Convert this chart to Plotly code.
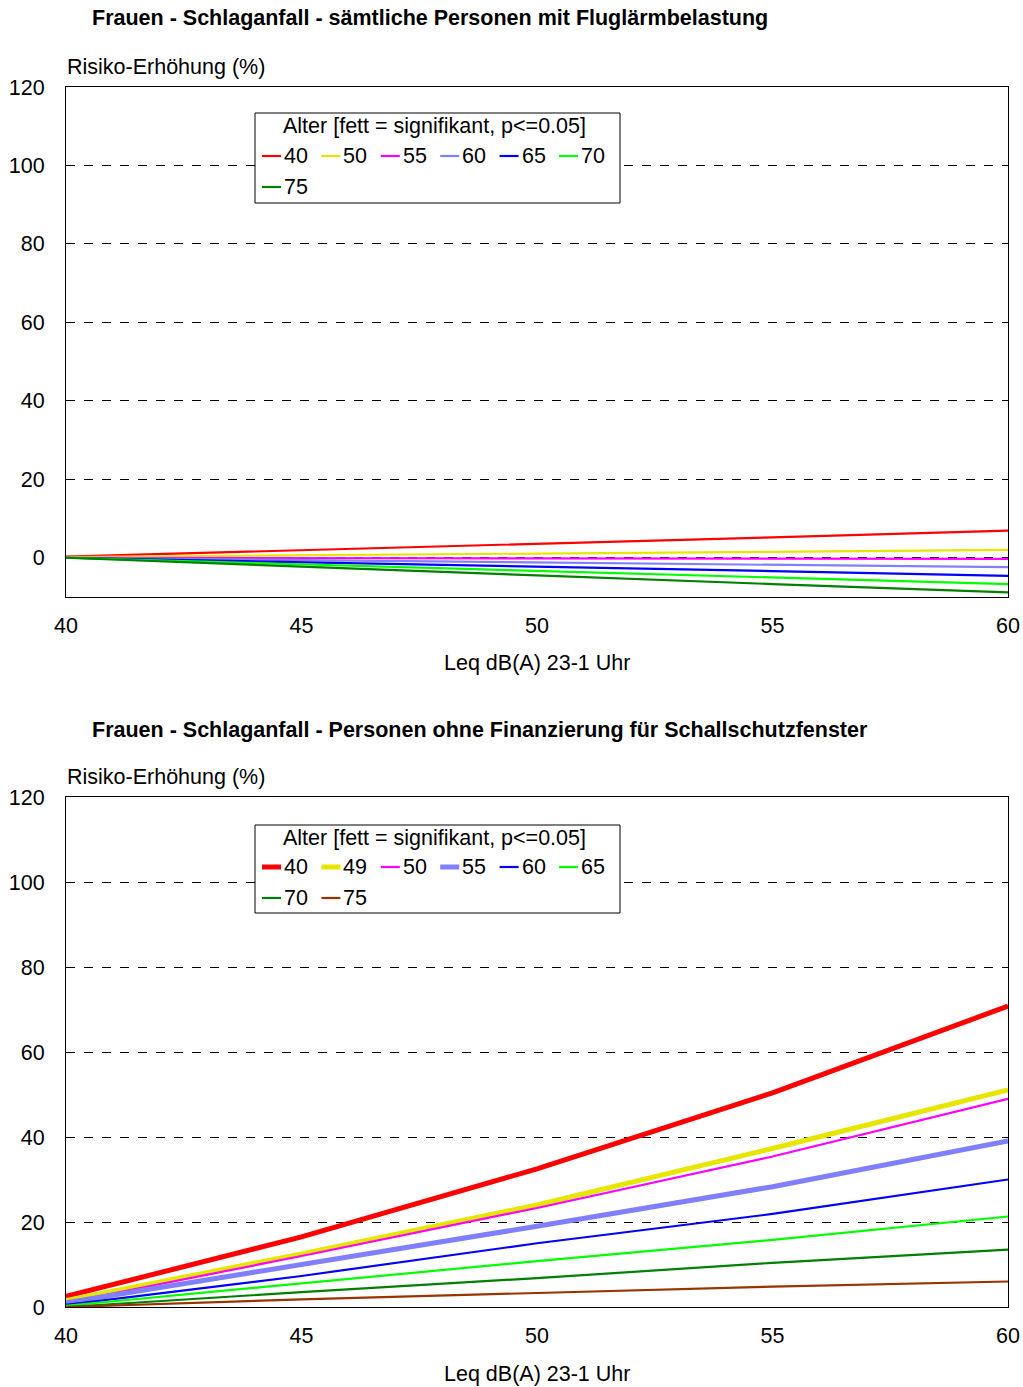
import plotly.graph_objects as go

# ---------------- data ----------------
x_leq = [40, 45, 50, 55, 60]

# top chart: all persons with aircraft noise exposure
top_names = ["40", "50", "55", "60", "65", "70", "75"]
top_colors = ["#FF0000", "#E6E600", "#FF00FF", "#8080FF", "#0000FF", "#00FF00", "#008000"]
top_bold = [False, False, False, False, False, False, False]
top_40 = [0.3, 1.9, 3.5, 5.2, 6.9]
top_50 = [0.2, 0.6, 1.0, 1.5, 2.0]
top_55 = [0.0, -0.1, -0.15, -0.2, -0.3]
top_60 = [0.0, -0.6, -1.2, -1.8, -2.4]
top_65 = [0.0, -1.1, -2.3, -3.4, -4.6]
top_70 = [0.0, -1.7, -3.4, -5.1, -6.7]
top_75 = [0.0, -2.3, -4.5, -6.7, -8.8]
top_series = [top_40, top_50, top_55, top_60, top_65, top_70, top_75]

# bottom chart: persons without funding for sound-proof windows
bot_names = ["40", "49", "50", "55", "60", "65", "70", "75"]
bot_colors = ["#FF0000", "#E6E600", "#FF00FF", "#8080FF", "#0000FF", "#00FF00", "#008000", "#993300"]
bot_bold = [True, True, False, True, False, False, False, False]
bot_40 = [2.5, 16.5, 32.5, 50.4, 70.8]
bot_49 = [1.5, 12.5, 24.0, 37.3, 51.1]
bot_50 = [1.0, 12.0, 23.3, 35.4, 49.0]
bot_55 = [1.0, 9.9, 19.0, 28.3, 39.1]
bot_60 = [0.5, 7.3, 15.0, 21.9, 30.0]
bot_65 = [0.3, 5.6, 10.8, 15.8, 21.3]
bot_70 = [0.0, 3.5, 6.8, 10.4, 13.5]
bot_75 = [0.0, 1.8, 3.3, 4.8, 6.0]
bot_series = [bot_40, bot_49, bot_50, bot_55, bot_60, bot_65, bot_70, bot_75]

y_ticks = [0, 20, 40, 60, 80, 100, 120]
x_ticks = [40, 45, 50, 55, 60]

title_top = "Frauen - Schlaganfall - sämtliche Personen mit Fluglärmbelastung"
title_bot = "Frauen - Schlaganfall - Personen ohne Finanzierung für Schallschutzfenster"
y_title = "Risiko-Erhöhung (%)"
x_title = "Leq dB(A) 23-1 Uhr"
legend_title = "Alter [fett = signifikant, p<=0.05]"

# ---------------- layout helpers ----------------
W, H = 1023, 1387
L, R = 66, 15
PW = W - L - R
FONT = "Liberation Sans, Arial, sans-serif"
FS = 21.5
THICK, THIN = 5, 2.2


def px_x(p):
    return (p - L) / PW


def px_y(p):
    return 1 - p / H


fig = go.Figure()

for name, col, ys, b in zip(top_names, top_colors, top_series, top_bold):
    fig.add_trace(go.Scatter(
        x=x_leq, y=ys, name=name, mode="lines",
        line=dict(color=col, width=THICK if b else THIN),
        xaxis="x", yaxis="y", showlegend=False,
    ))

for name, col, ys, b in zip(bot_names, bot_colors, bot_series, bot_bold):
    fig.add_trace(go.Scatter(
        x=x_leq, y=ys, name=name, mode="lines",
        line=dict(color=col, width=THICK if b else THIN),
        xaxis="x2", yaxis="y2", showlegend=False,
    ))

axis_common = dict(
    showline=True, linecolor="#000000", linewidth=1, mirror=True,
    ticks="", tickfont=dict(size=FS, color="#000000", family=FONT),
    zeroline=False, automargin=False,
)
xaxis_common = dict(axis_common, range=[40, 60], tickvals=x_ticks, showgrid=False,
                    ticklabelstandoff=9)
yaxis_common = dict(axis_common, tickvals=y_ticks, showgrid=True, gridcolor="#000000",
                    griddash="dash", gridwidth=1, ticklabelstandoff=16)

top_dom = [px_y(597), px_y(87)]
bot_dom = [px_y(1307), px_y(797)]

fig.update_layout(
    width=W, height=H,
    margin=dict(l=L, r=R, t=0, b=0, autoexpand=False),
    paper_bgcolor="white", plot_bgcolor="white",
    font=dict(family=FONT, size=FS, color="#000000"),
    xaxis=dict(xaxis_common, domain=[0, 1], anchor="y"),
    yaxis=dict(yaxis_common, domain=top_dom, range=[-10, 120], anchor="x"),
    xaxis2=dict(xaxis_common, domain=[0, 1], anchor="y2"),
    yaxis2=dict(yaxis_common, domain=bot_dom, range=[0, 120], anchor="x2"),
    showlegend=False,
)

ann = []
PAD = 2  # annotation inner padding compensation

# legend boxes (frame, title, entries built from the series lists)
legend_specs = [
    (113, 203, 126, 156, top_names, top_colors, top_bold),
    (825, 913, 838, 867, bot_names, bot_colors, bot_bold),
]
COL_STEP = 59.4
ROW_STEP = 31
for box_top, box_bot, title_y, row0_y, names, colors, bolds in legend_specs:
    fig.add_shape(type="rect", xref="paper", yref="paper",
                  x0=px_x(255), x1=px_x(620), y0=px_y(box_bot), y1=px_y(box_top),
                  line=dict(color="#000000", width=1), fillcolor="white", layer="above")
    ann.append(dict(text=legend_title, x=px_x(283 - PAD), y=px_y(title_y), xref="paper", yref="paper",
                    xanchor="left", yanchor="middle", showarrow=False,
                    font=dict(size=FS, family=FONT, color="#000000")))
    for i, (name, col, b) in enumerate(zip(names, colors, bolds)):
        c, r = i % 6, i // 6
        x0 = 262 + c * COL_STEP
        yy = row0_y + r * ROW_STEP
        fig.add_shape(type="line", xref="paper", yref="paper",
                      x0=px_x(x0), x1=px_x(x0 + 19), y0=px_y(yy), y1=px_y(yy),
                      line=dict(color=col, width=THICK if b else THIN), layer="above")
        ann.append(dict(text=name, x=px_x(x0 + 22 - PAD), y=px_y(yy), xref="paper", yref="paper",
                        xanchor="left", yanchor="middle", showarrow=False,
                        font=dict(size=FS, family=FONT, color="#000000")))

# titles and axis titles
for txt, yp in [(title_top, 18), (title_bot, 730)]:
    ann.append(dict(text="<b>" + txt + "</b>", x=px_x(92 - PAD), y=px_y(yp), xref="paper", yref="paper",
                    xanchor="left", yanchor="middle", showarrow=False,
                    font=dict(size=FS, family=FONT, color="#000000")))
for yp in [67, 777]:
    ann.append(dict(text=y_title, x=px_x(67 - PAD), y=px_y(yp), xref="paper", yref="paper",
                    xanchor="left", yanchor="middle", showarrow=False,
                    font=dict(size=FS, family=FONT, color="#000000")))
for yp in [663, 1374]:
    ann.append(dict(text=x_title, x=px_x(537), y=px_y(yp), xref="paper", yref="paper",
                    xanchor="center", yanchor="middle", showarrow=False,
                    font=dict(size=FS, family=FONT, color="#000000")))
fig.update_layout(annotations=ann)

fig.write_html("out.html")
